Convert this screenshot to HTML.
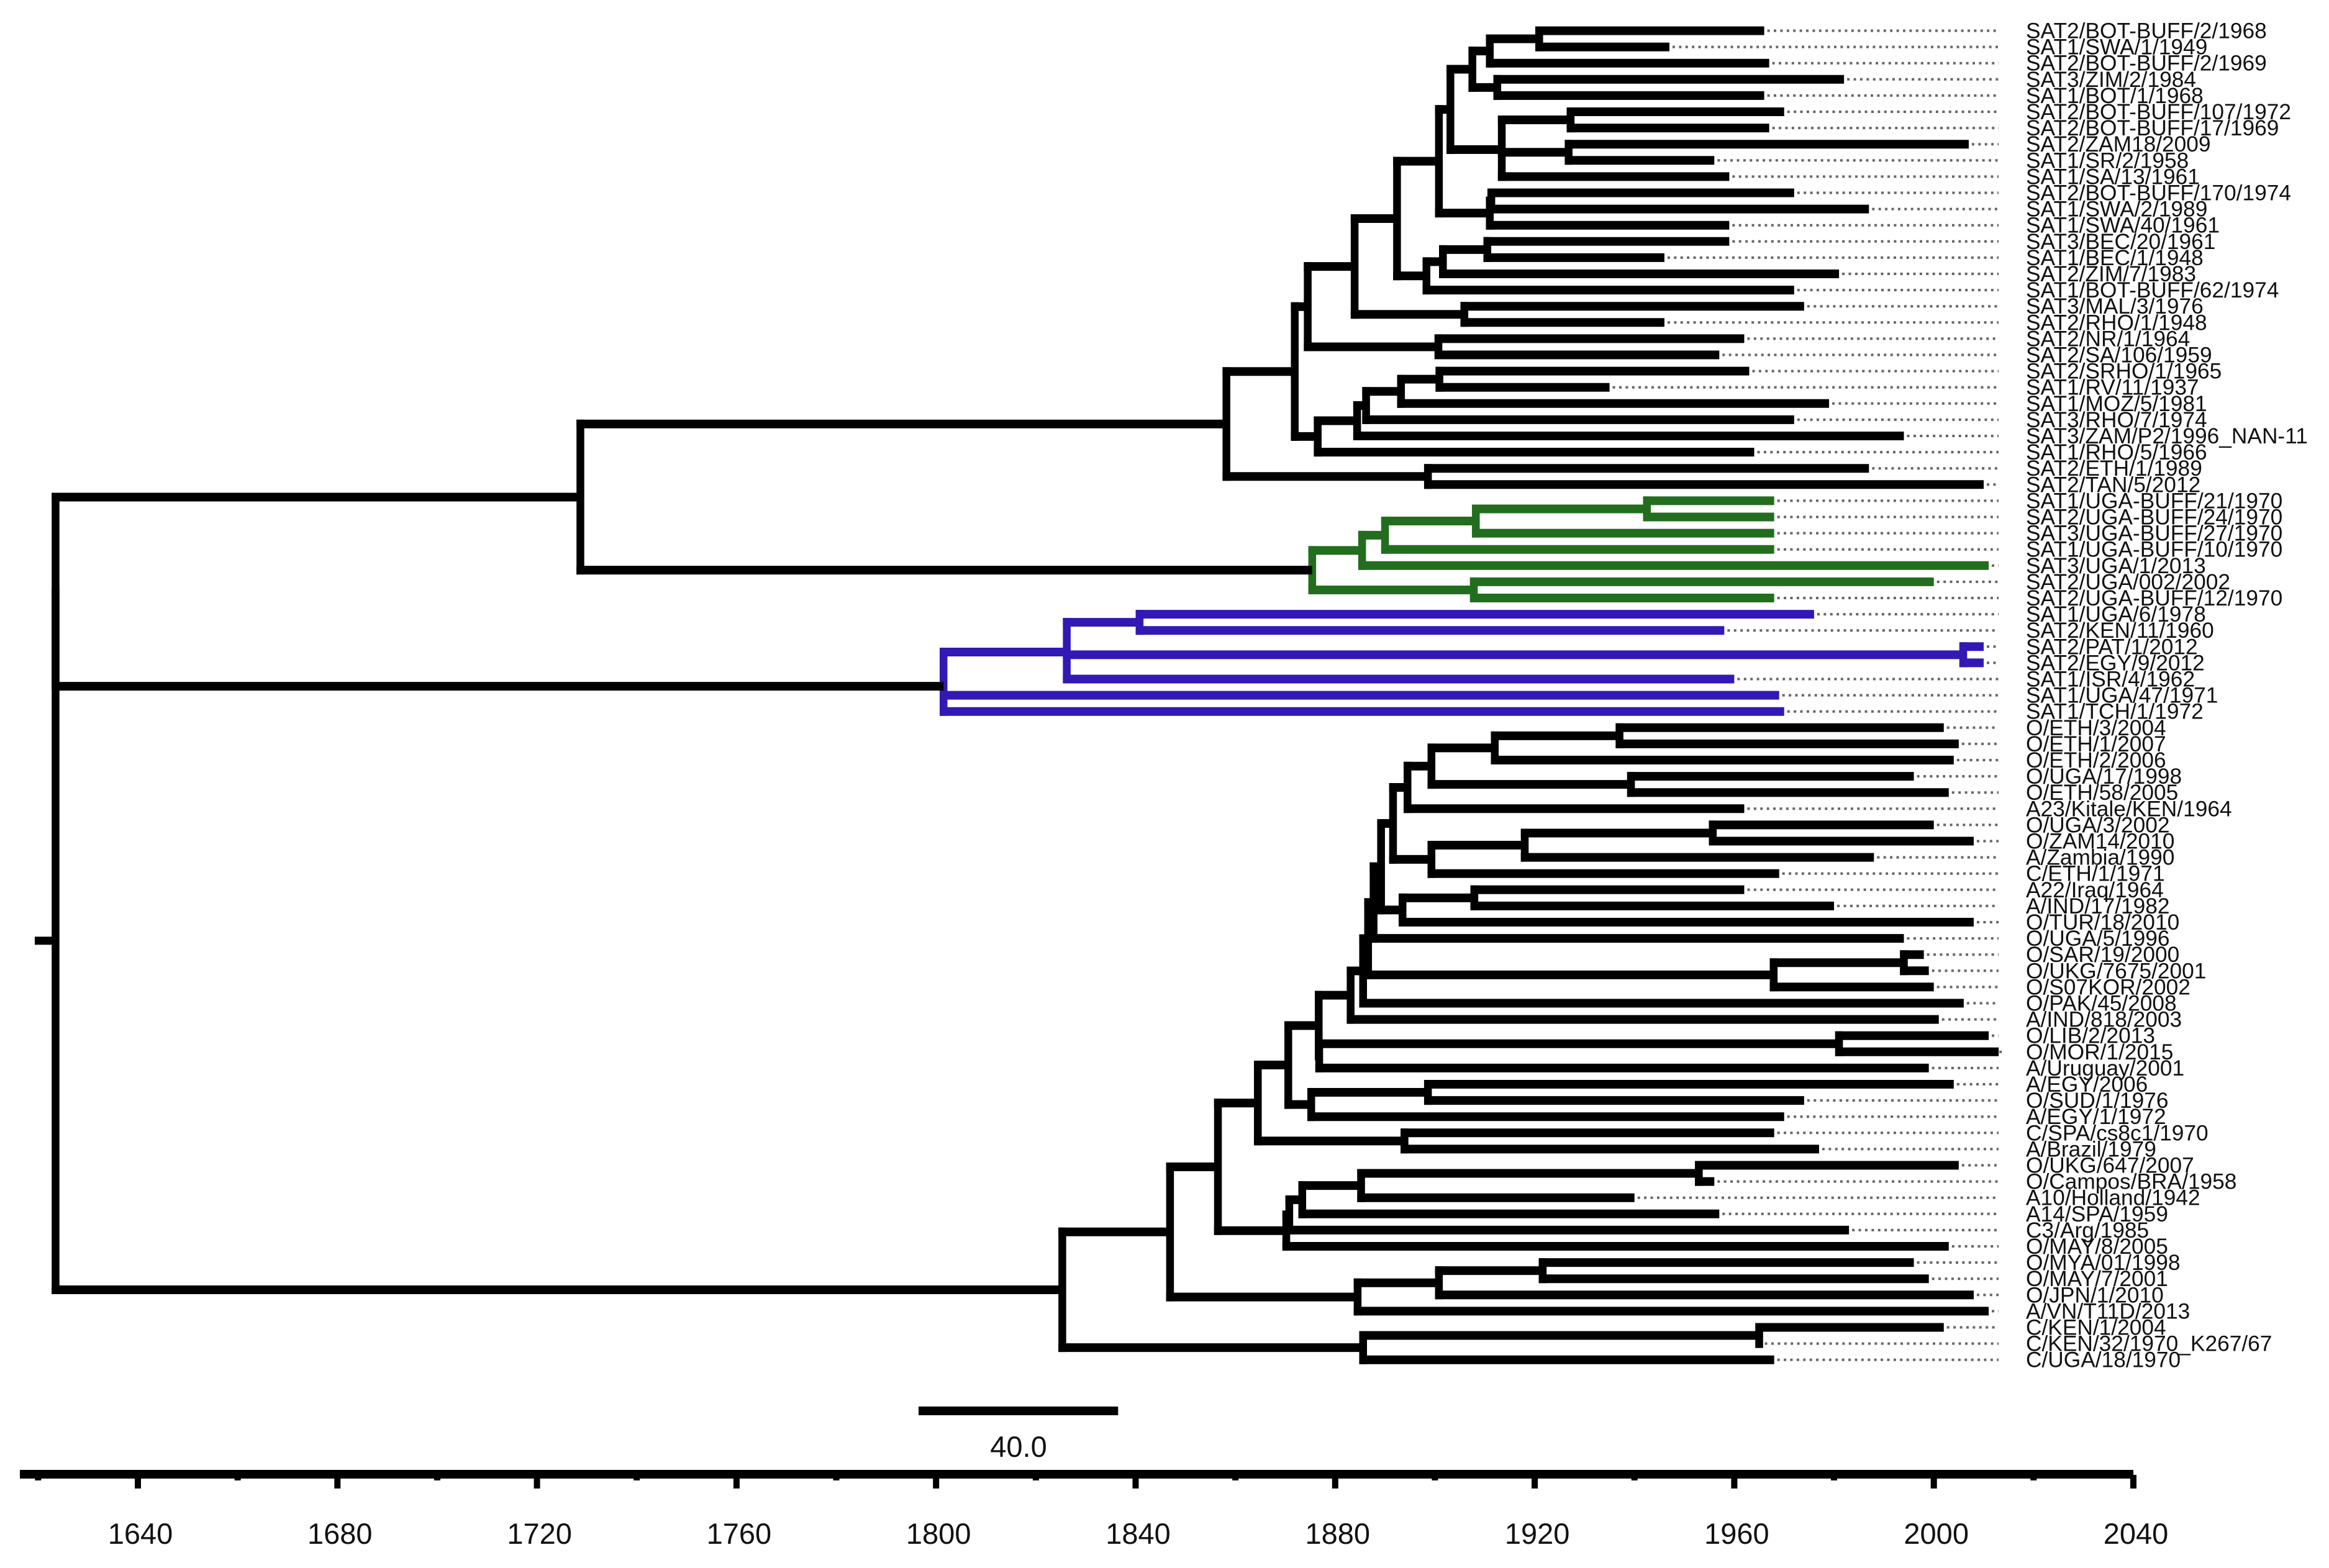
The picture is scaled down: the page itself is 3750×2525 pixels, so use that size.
<!DOCTYPE html>
<html lang="en">
<head>
<meta charset="utf-8">
<title>Time-scaled phylogenetic tree</title>
<style>
html,body{margin:0;padding:0;background:#fff;}
svg{display:block;}
text{font-family:"Liberation Sans",Arial,sans-serif;fill:#111;}
</style>
</head>
<body>
<svg id="chart" xmlns="http://www.w3.org/2000/svg" width="3750" height="2525" viewBox="0 0 3750 2525">
<rect x="0" y="0" width="3750" height="2525" fill="#fff"/>
<g id="dots"></g>
<g id="tree"></g>
<g id="labels"></g>
<g id="scalebar"></g>
<g id="axis"></g>
</svg>
<script>
const tipLabels = ["SAT2/BOT-BUFF/2/1968","SAT1/SWA/1/1949","SAT2/BOT-BUFF/2/1969","SAT3/ZIM/2/1984","SAT1/BOT/1/1968","SAT2/BOT-BUFF/107/1972","SAT2/BOT-BUFF/17/1969","SAT2/ZAM18/2009","SAT1/SR/2/1958","SAT1/SA/13/1961","SAT2/BOT-BUFF/170/1974","SAT1/SWA/2/1989","SAT1/SWA/40/1961","SAT3/BEC/20/1961","SAT1/BEC/1/1948","SAT2/ZIM/7/1983","SAT1/BOT-BUFF/62/1974","SAT3/MAL/3/1976","SAT2/RHO/1/1948","SAT2/NR/1/1964","SAT2/SA/106/1959","SAT2/SRHO/1/1965","SAT1/RV/11/1937","SAT1/MOZ/5/1981","SAT3/RHO/7/1974","SAT3/ZAM/P2/1996_NAN-11","SAT1/RHO/5/1966","SAT2/ETH/1/1989","SAT2/TAN/5/2012","SAT1/UGA-BUFF/21/1970","SAT2/UGA-BUFF/24/1970","SAT3/UGA-BUFF/27/1970","SAT1/UGA-BUFF/10/1970","SAT3/UGA/1/2013","SAT2/UGA/002/2002","SAT2/UGA-BUFF/12/1970","SAT1/UGA/6/1978","SAT2/KEN/11/1960","SAT2/PAT/1/2012","SAT2/EGY/9/2012","SAT1/ISR/4/1962","SAT1/UGA/47/1971","SAT1/TCH/1/1972","O/ETH/3/2004","O/ETH/1/2007","O/ETH/2/2006","O/UGA/17/1998","O/ETH/58/2005","A23/Kitale/KEN/1964","O/UGA/3/2002","O/ZAM14/2010","A/Zambia/1990","C/ETH/1/1971","A22/Iraq/1964","A/IND/17/1982","O/TUR/18/2010","O/UGA/5/1996","O/SAR/19/2000","O/UKG/7675/2001","O/S07KOR/2002","O/PAK/45/2008","A/IND/818/2003","O/LIB/2/2013","O/MOR/1/2015","A/Uruguay/2001","A/EGY/2006","O/SUD/1/1976","A/EGY/1/1972","C/SPA/cs8c1/1970","A/Brazil/1979","O/UKG/647/2007","O/Campos/BRA/1958","A10/Holland/1942","A14/SPA/1959","C3/Arg/1985","O/MAY/8/2005","O/MYA/01/1998","O/MAY/7/2001","O/JPN/1/2010","A/VN/T11D/2013","C/KEN/1/2004","C/KEN/32/1970_K267/67","C/UGA/18/1970"];
const tipYears = [1966,1947,1967,1982,1966,1970,1967,2007,1956,1959,1972,1987,1959,1959,1946,1981,1972,1974,1946,1962,1957,1963,1935,1979,1972,1994,1964,1987,2010,1968,1968,1968,1968,2011,2000,1968,1976,1958,2010,2010,1960,1969,1970,2002,2005,2004,1996,2003,1962,2000,2008,1988,1969,1962,1980,2008,1994,1998,1999,2000,2006,2001,2011,2013,1999,2004,1974,1970,1968,1977,2005,1956,1940,1957,1983,2003,1996,1999,2008,2011,2002,1965.5,1968];
/* Internal nodes, children before parents. A number child is a tip index; a string child is a node id. */
const nodeIds = ["A","B","C","D","E","F","G","H","I1","I","J","K","L","M","N","O","P","Q","Q2","R","S","U2","U1","U","Q3","V","SATa","G1","G2","G3","G4","G6","G5","SATtop","n36","n38","bp","B0","RA","a1","a2","a3","a4","a5","b1","b2","b3","W","c1","c2","Z1","Z2","d1","d2","Z3","Z4","Z5","e1","X","Z6","f1","f2","C1","g1","C2","h1","h2","h3","T1","T2","C3","i1","i2","i3","C5","j1","j2","C6","ROOT"];
const nodeChildren = [[0,1],["A",2],[3,4],["B","C"],[5,6],[7,8],["E","F",9],["D","G"],[10,11],["I1",12],["H","I"],[13,14],["K",15],["L",16],["J","M"],[17,18],["N","O"],[19,20],["P","Q"],[21,22],["R",23],["S",24],["U2",25],["U1",26],["Q2","U"],[27,28],["Q3","V"],[29,30],["G1",31],["G2",32],["G3",33],[34,35],["G4","G6"],["SATa","G5"],[36,37],[38,39],["n36","n38",40],["bp",41,42],["SATtop","B0"],[43,44],["a1",45],[46,47],["a2","a3"],["a4",48],[49,50],["b1",51],["b2",52],["a5","b3"],[53,54],["c1",55],["W","c2"],["Z1",56],[57,58],["d1",59],["Z2","d2"],["Z3",60],["Z4",61],[62,63],["e1",64],["Z5","X"],[65,66],["f1",67],["Z6","f2"],[68,69],["C1","g1"],[70,71],["h1",72],["h2",73],["h3",74],["T1",75],["C2","T2"],[76,77],["i1",78],["i2",79],["C3","i3"],[80,81],["j1",82],["C5","j2"],["RA","C6"]];
const nodeYears = [1920.9,1911.0,1912.5,1907.5,1927.2,1926.8,1913.4,1903.1,1911.3,1911.0,1900.8,1910.5,1901.6,1898.3,1892.4,1905.9,1883.9,1900.7,1874.5,1900.9,1893.2,1886.2,1884.4,1876.5,1871.9,1898.6,1858.2,1942.5,1908.2,1890.0,1885.4,1907.8,1875.4,1728.7,1840.8,2005.9,1826.2,1801.5,1623.5,1937.0,1912.0,1939.3,1899.3,1894.5,1955.7,1918.0,1899.3,1891.6,1907.9,1893.5,1889.2,1887.7,1994.0,1967.9,1886.6,1885.6,1883.1,1981.0,1876.8,1876.7,1898.6,1875.2,1870.6,1893.9,1864.5,1952.9,1885.2,1873.4,1870.8,1870.2,1856.5,1921.6,1900.8,1884.5,1846.9,1965.0,1885.6,1825.3,1623.5];
const cladeRoots = ["G5","B0"];
const cladeColors = ["#226e1e","#3219b4"];
const axisMajorTicks = [1640,1680,1720,1760,1800,1840,1880,1920,1960,2000,2040];
const axisMinorTicks = [1620,1660,1700,1740,1780,1820,1860,1900,1940,1980,2020];
const scaleBarYears = [40];
const scaleBarLabels = ["40.0"];

const NS = "http://www.w3.org/2000/svg";
const xScale = y => 222 + (y - 1640) * 8.0325;
const yScale = i => 49.5 + i * 26.1;
function mk(parent, tag, attrs, txt){
  const el = document.createElementNS(NS, tag);
  for (const k in attrs) el.setAttribute(k, attrs[k]);
  if (txt !== undefined) el.textContent = txt;
  parent.appendChild(el);
  return el;
}
const H = 14, V = 12.5;
const gTree = document.getElementById("tree");
const gDots = document.getElementById("dots");
const gLabels = document.getElementById("labels");
const gAxis = document.getElementById("axis");
const gScale = document.getElementById("scalebar");

const index = {};
nodeIds.forEach((id, i) => { index[id] = i; });
const colorOf = {};
function paint(id, color){
  colorOf[id] = color;
  nodeChildren[index[id]].forEach(c => {
    if (typeof c === "string") paint(c, color);
    else colorOf["t" + c] = color;
  });
}
cladeRoots.forEach((r, i) => paint(r, cladeColors[i]));

const nodeY = {};
const yOf = c => typeof c === "string" ? nodeY[c] : yScale(c);
nodeIds.forEach((id, i) => {
  const ch = nodeChildren[i];
  nodeY[id] = ch.reduce((s, c) => s + yOf(c), 0) / ch.length;
});

tipLabels.forEach((name, i) => {
  const y = yScale(i);
  const dot = mk(gDots, "line", {x1: xScale(tipYears[i]) + 5, x2: 3218, y1: y, y2: y, stroke: "#666", "stroke-width": 4, "stroke-dasharray": "4 6.4"});
  
  
  const t = mk(gLabels, "text", {x: 3262, y: y + 12, "font-size": 35.3}, name);
  
  
});

nodeIds.forEach((id, i) => {
  const ch = nodeChildren[i];
  const nx = xScale(nodeYears[i]);
  const vert = mk(gTree, "line", {x1: nx, x2: nx, y1: yOf(ch[0]) - H / 2, y2: yOf(ch[ch.length - 1]) + H / 2, stroke: colorOf[id] || "#000", "stroke-width": V});
  
  
  ch.forEach(c => {
    const isNode = typeof c === "string";
    const cx = isNode ? xScale(nodeYears[index[c]]) : xScale(tipYears[c]);
    const col = isNode ? (cladeRoots.includes(c) ? (colorOf[id] || "#000") : (colorOf[c] || "#000")) : (colorOf["t" + c] || "#000");
    const cy = yOf(c);
    const hor = mk(gTree, "line", {x1: nx - V / 2, x2: cx, y1: cy, y2: cy, stroke: col, "stroke-width": H});
    
    
  });
});

const rootStem = mk(gTree, "line", {x1: 56, x2: xScale(nodeYears[index["ROOT"]]), y1: nodeY["ROOT"], y2: nodeY["ROOT"], stroke: "#000", "stroke-width": 13});



const barX = 1479;
const bar = mk(gScale, "rect", {x: barX, y: 2265, width: xScale(1640 + scaleBarYears[0]) - xScale(1640), height: 14, fill: "#000"});


const barText = mk(gScale, "text", {x: 1640, y: 2346, "font-size": 47, "text-anchor": "middle"}, scaleBarLabels[0]);



const axisLine = mk(gAxis, "rect", {x: 32, y: 2367, width: 3403 + 5 - 32 + 32 - 5, height: 14, fill: "#000"});


axisMinorTicks.forEach(v => {
  const tk = mk(gAxis, "rect", {x: xScale(v) - 5, y: 2375, width: 10, height: 9, fill: "#000"});
  
  
});
axisMajorTicks.forEach(v => {
  const tk = mk(gAxis, "rect", {x: xScale(v) - 5, y: 2375, width: 10, height: 22, fill: "#000"});
  
  
  const lb = mk(gAxis, "text", {x: xScale(v) + 4, y: 2486, "font-size": 47, "text-anchor": "middle"}, String(v));
  
  
});
</script>
</body>
</html>
